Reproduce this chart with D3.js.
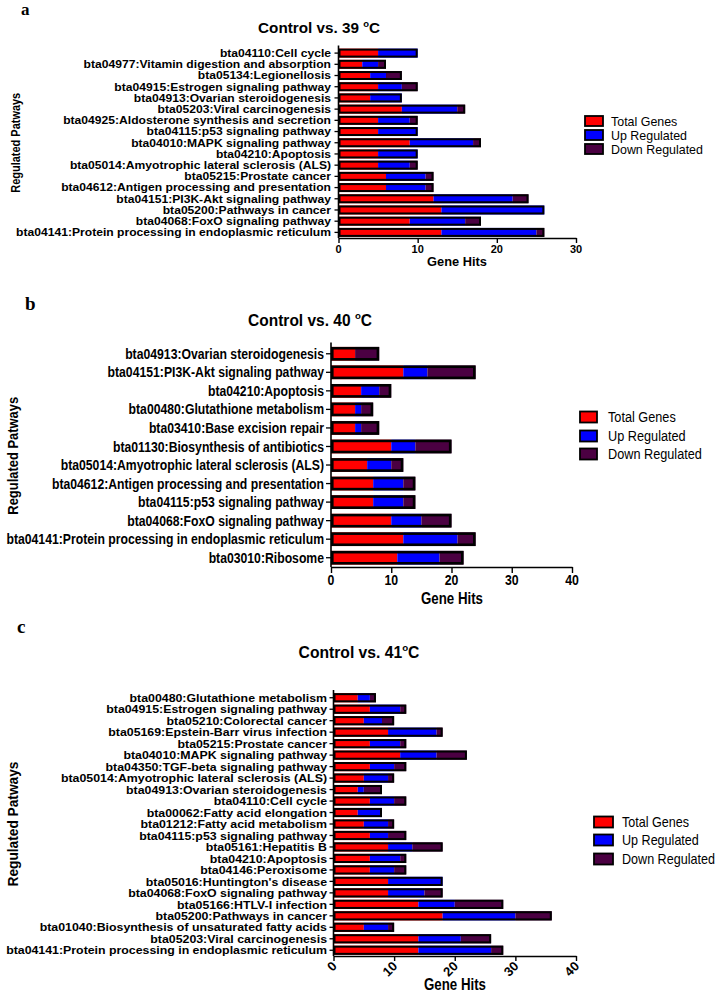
<!DOCTYPE html>
<html><head><meta charset="utf-8">
<script src="https://cdn.jsdelivr.net/npm/d3@7"></script>
<style>body{margin:0;background:#fff}</style>
</head><body>
<svg id="chart" width="716" height="992" xmlns="http://www.w3.org/2000/svg"></svg>
<script>
// ---------- DATA ----------
const seriesKeys = ["Total Genes", "Up Regulated", "Down Regulated"];
const seriesColors = ["#ff0000", "#0000ff", "#4b0042"];

const catsA = ["bta04110:Cell cycle", "bta04977:Vitamin digestion and absorption", "bta05134:Legionellosis",
  "bta04915:Estrogen signaling pathway", "bta04913:Ovarian steroidogenesis", "bta05203:Viral carcinogenesis",
  "bta04925:Aldosterone synthesis and secretion", "bta04115:p53 signaling pathway", "bta04010:MAPK signaling pathway",
  "bta04210:Apoptosis", "bta05014:Amyotrophic lateral sclerosis (ALS)", "bta05215:Prostate cancer",
  "bta04612:Antigen processing and presentation", "bta04151:PI3K-Akt signaling pathway", "bta05200:Pathways in cancer",
  "bta04068:FoxO signaling pathway", "bta04141:Protein processing in endoplasmic reticulum"];
const totalA = [5, 3, 4, 5, 4, 8, 5, 5, 9, 5, 5, 6, 6, 12, 13, 9, 13];
const upA    = [5, 2, 2, 3, 4, 7, 4, 5, 8, 5, 4, 5, 5, 10, 13, 7, 12];
const downA  = [0, 1, 2, 2, 0, 1, 1, 0, 1, 0, 1, 1, 1, 2, 0, 2, 1];

const catsB = ["bta04913:Ovarian steroidogenesis", "bta04151:PI3K-Akt signaling pathway", "bta04210:Apoptosis",
  "bta00480:Glutathione metabolism", "bta03410:Base excision repair", "bta01130:Biosynthesis of antibiotics",
  "bta05014:Amyotrophic lateral sclerosis (ALS)", "bta04612:Antigen processing and presentation",
  "bta04115:p53 signaling pathway", "bta04068:FoxO signaling pathway",
  "bta04141:Protein processing in endoplasmic reticulum", "bta03010:Ribosome"];
const totalB = [4, 12, 5, 4, 4, 10, 6, 7, 7, 10, 12, 11];
const upB    = [0, 4, 3, 1, 1, 4, 4, 5, 5, 5, 9, 7];
const downB  = [4, 8, 2, 2, 3, 6, 2, 2, 2, 5, 3, 4];

const catsC = ["bta00480:Glutathione metabolism", "bta04915:Estrogen signaling pathway", "bta05210:Colorectal cancer",
  "bta05169:Epstein-Barr virus infection", "bta05215:Prostate cancer", "bta04010:MAPK signaling pathway",
  "bta04350:TGF-beta signaling pathway", "bta05014:Amyotrophic lateral sclerosis (ALS)",
  "bta04913:Ovarian steroidogenesis", "bta04110:Cell cycle", "bta00062:Fatty acid elongation",
  "bta01212:Fatty acid metabolism", "bta04115:p53 signaling pathway", "bta05161:Hepatitis B",
  "bta04210:Apoptosis", "bta04146:Peroxisome", "bta05016:Huntington's disease",
  "bta04068:FoxO signaling pathway", "bta05166:HTLV-I infection", "bta05200:Pathways in cancer",
  "bta01040:Biosynthesis of unsaturated fatty acids", "bta05203:Viral carcinogenesis",
  "bta04141:Protein processing in endoplasmic reticulum"];
const totalC = [4, 6, 5, 9, 6, 11, 6, 5, 4, 6, 4, 5, 6, 9, 6, 6, 9, 9, 14, 18, 5, 14, 14];
const upC    = [2, 5, 3, 8, 5, 6, 4, 4, 1, 4, 4, 4, 3, 4, 5, 4, 9, 6, 6, 12, 4, 7, 12];
const downC  = [1, 1, 2, 1, 1, 5, 2, 1, 3, 2, 0, 1, 3, 5, 1, 2, 0, 3, 8, 6, 1, 5, 2];

const ticksA = [0, 10, 20, 30];
const ticksB = [0, 10, 20, 30, 40];
const ticksC = [0, 10, 20, 30, 40];

const titleTemps = ["39 ", "40 ", "41"];
const panelLetters = ["a", "b", "c"];
const yTitle = "Regulated Patways";
const xTitle = "Gene Hits";

// ---------- DRAWING ----------
const FONT = "'Liberation Sans', Arial, Helvetica, sans-serif";
const svg = d3.select("#chart");

function label(parent, o) {
  const g = parent.append("g")
    .attr("transform", `translate(${o.x},${o.y})` + (o.rotate ? ` rotate(${o.rotate})` : ""));
  const t = g.append("text")
    .attr("font-family", o.family || FONT)
    .attr("font-size", o.size)
    .attr("font-weight", o.weight || "bold")
    .attr("text-anchor", o.anchor || "start")
    .attr("fill", "#000");
  if (o.sup) {
    t.append("tspan").text(o.text);
    t.append("tspan").text("o").attr("font-size", o.size * 0.62).attr("dy", -o.size * 0.42);
    t.append("tspan").text("C").attr("dy", o.size * 0.42);
  } else {
    t.text(o.text);
  }
  if (o.width) {
    const w = t.node().getComputedTextLength();
    t.attr("transform", `scale(${o.width / w},1)`);
  } else if (o.sx) {
    t.attr("transform", `scale(${o.sx},1)`);
  }
  return t;
}

function fitGroup(textSel, maxWidth) {
  let maxW = 0;
  textSel.forEach(t => { maxW = Math.max(maxW, t.node().getComputedTextLength()); });
  const sx = maxWidth / maxW;
  textSel.forEach(t => t.attr("transform", `scale(${sx},1)`));
}

function drawPanel(o) {
  const g = svg.append("g");
  const x = d3.scaleLinear().domain([0, o.ticks[o.ticks.length - 1]]).range([o.x0, o.x1]);
  const y = d3.scaleBand().domain(o.cats).range([o.top, o.bottom]).paddingInner(o.pad).paddingOuter(o.pad / 2);
  const rows = o.cats.map((c, i) => ({ cat: c, "Total Genes": o.total[i], "Up Regulated": o.up[i], "Down Regulated": o.down[i] }));
  const stacked = d3.stack().keys(seriesKeys)(rows);

  stacked.forEach((s, k) => {
    g.append("g").selectAll("rect").data(s.filter(d => d[1] > d[0])).join("rect")
      .attr("x", d => x(d[0]))
      .attr("y", d => y(d.data.cat))
      .attr("width", d => x(d[1]) - x(d[0]))
      .attr("height", y.bandwidth())
      .attr("fill", seriesColors[k]);
  });
  const sw = o.sw;
  g.append("g").selectAll("rect").data(rows).join("rect")
    .attr("x", d => x(0) + sw / 2)
    .attr("y", d => y(d.cat) + sw / 2)
    .attr("width", d => x(d["Total Genes"] + d["Up Regulated"] + d["Down Regulated"]) - x(0) - sw)
    .attr("height", y.bandwidth() - sw)
    .attr("fill", "none").attr("stroke", "#000").attr("stroke-width", sw);

  // y axis
  const ya = g.append("g").attr("transform", `translate(${o.x0},0)`)
    .call(d3.axisLeft(y).tickSize(o.tickY).tickSizeOuter(0).tickPadding(3));
  ya.select(".domain").attr("stroke-width", 1.6).attr("d", `M0,${o.top - 2}V${o.bottom}`);
  ya.selectAll(".tick line").attr("stroke-width", 1.3);
  ya.selectAll(".tick text").remove();
  const labs = o.cats.map(c => label(g, { x: o.labelRight, y: y(c) + y.bandwidth() / 2 + o.labelSize * 0.36, text: c,
      size: o.labelSize, anchor: "end" }));
  fitGroup(labs, o.labelMaxWidth);

  // x axis
  const xa = g.append("g").attr("transform", `translate(0,${o.bottom})`)
    .call(d3.axisBottom(x).tickValues(o.ticks).tickSize(o.tickX).tickSizeOuter(0).tickFormat(d3.format("d")));
  xa.select(".domain").attr("stroke-width", 1.6);
  xa.selectAll(".tick line").attr("stroke-width", 1.4);
  xa.selectAll(".tick text").remove();
  o.ticks.forEach(v => {
    if (o.rotTicks) {
      label(g, { x: x(v) + 4, y: o.bottom + 11, text: String(v), size: o.tickSize, anchor: "end", rotate: -45 });
    } else {
      label(g, { x: x(v), y: o.tickBase, text: String(v), size: o.tickSize, anchor: "middle", sx: o.tickSx });
    }
  });

  label(g, { x: o.xTitleX, y: o.xTitleY, text: xTitle, size: o.xTitleSize, anchor: "middle", width: o.xTitleW });
  label(g, { x: o.yTitleX, y: (o.top + o.bottom) / 2, text: yTitle, size: o.yTitleSize, anchor: "middle", rotate: -90, width: o.yTitleW });
  label(g, { x: o.titleX, y: o.titleY, text: "Control vs. " + o.temp, sup: true, size: o.titleSize, anchor: "middle", width: o.titleW });
  label(g, { x: o.letterX, y: o.letterY, text: o.letter, size: o.letterSize, family: "'Liberation Serif', 'Times New Roman', serif" });

  // legend
  const legTexts = seriesKeys.map((k, i) => {
    const cy = o.legY[i];
    g.append("rect").attr("x", o.legX).attr("y", cy - o.legH / 2).attr("width", o.legW).attr("height", o.legH)
      .attr("fill", seriesColors[i]).attr("stroke", "#000").attr("stroke-width", 1.8);
    return label(g, { x: o.legTextX, y: cy + o.legSize * 0.36, text: k, size: o.legSize, weight: "normal" });
  });
  fitGroup(legTexts, o.legTextW);
}

drawPanel({
  cats: catsA, total: totalA, up: upA, down: downA, ticks: ticksA,
  x0: 338.5, x1: 576, top: 47.5, bottom: 238, pad: 0.2, sw: 2,
  tickY: 4, tickX: 5, labelRight: 331, labelSize: 10.6, labelMaxWidth: 315,
  tickSize: 11, tickBase: 253, xTitleX: 457, xTitleY: 266, xTitleSize: 12.5, xTitleW: 60,
  yTitleX: 20, yTitleSize: 12, yTitleW: 100,
  titleX: 319, titleY: 33, titleSize: 14.5, titleW: 122, temp: titleTemps[0],
  letter: panelLetters[0], letterX: 21, letterY: 15, letterSize: 17,
  legX: 585, legW: 18, legH: 10, legY: [121, 135, 149], legTextX: 611, legSize: 12.8, legTextW: 92
});

drawPanel({
  cats: catsB, total: totalB, up: upB, down: downB, ticks: ticksB,
  x0: 331, x1: 572, top: 344.5, bottom: 567, pad: 0.26, sw: 2.6,
  tickY: 5, tickX: 6, labelRight: 324, labelSize: 14, labelMaxWidth: 318,
  tickSize: 14, tickBase: 585, tickSx: 0.88, xTitleX: 452, xTitleY: 604, xTitleSize: 16, xTitleW: 62,
  yTitleX: 18, yTitleSize: 15, yTitleW: 118,
  titleX: 310, titleY: 326, titleSize: 16, titleW: 124, temp: titleTemps[1],
  letter: panelLetters[1], letterX: 25, letterY: 310, letterSize: 19,
  legX: 580, legW: 17, legH: 11, legY: [417, 436, 454], legTextX: 608, legSize: 15, legTextW: 94
});

drawPanel({
  cats: catsC, total: totalC, up: upC, down: downC, ticks: ticksC,
  x0: 333.5, x1: 576, top: 692, bottom: 956, pad: 0.2, sw: 2,
  tickY: 4, tickX: 5, labelRight: 327, labelSize: 11.6, labelMaxWidth: 321,
  tickSize: 13, rotTicks: true, xTitleX: 455, xTitleY: 990, xTitleSize: 16.5, xTitleW: 62,
  yTitleX: 18, yTitleSize: 15, yTitleW: 125,
  titleX: 359, titleY: 658, titleSize: 16, titleW: 121, temp: titleTemps[2],
  letter: panelLetters[2], letterX: 17, letterY: 633, letterSize: 19,
  legX: 594, legW: 19, legH: 11, legY: [822, 840, 859], legTextX: 622, legSize: 15, legTextW: 93
});
</script>
</body></html>
